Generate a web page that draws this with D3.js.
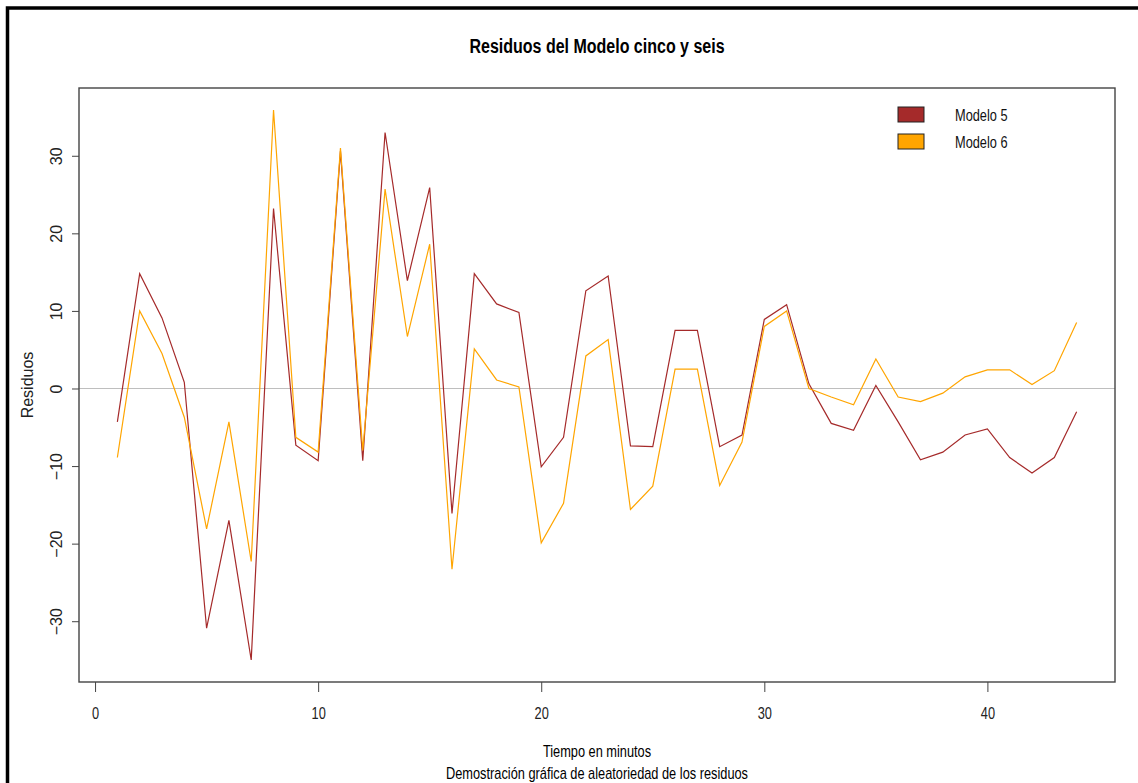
<!DOCTYPE html>
<html>
<head>
<meta charset="utf-8">
<script src="https://cdn.jsdelivr.net/npm/d3@7"></script>
<style>
  body { margin: 0; background: #fff; }
  text { font-family: "Liberation Sans", Arial, sans-serif; }
</style>
</head>
<body>
<div id="chart"></div>
<script>
// residuos (minuto 1..44)
const minutos = d3.range(1, 45);
const modelo5 = [-4.3, 14.8, 9.1, 0.8, -30.9, -17.0, -35.0, 23.2, -7.3, -9.3, 30.6, -9.3, 33.0, 13.9, 25.9, -16.1,
  14.8, 10.9, 9.8, -10.1, -6.3, 12.6, 14.5, -7.4, -7.5, 7.5, 7.5, -7.5, -6.0, 8.9, 10.8, 0.6, -4.5, -5.4, 0.4,
  -4.3, -9.2, -8.2, -6.0, -5.2, -8.9, -10.9, -8.9, -3.0];
const modelo6 = [-8.9, 10.0, 4.5, -3.7, -18.1, -4.3, -22.3, 35.9, -6.3, -8.2, 31.0, -8.0, 25.7, 6.7, 18.6, -23.3,
  5.1, 1.1, 0.2, -19.9, -14.8, 4.2, 6.3, -15.6, -12.6, 2.5, 2.5, -12.5, -6.9, 8.0, 10.0, 0.0, -1.1, -2.1, 3.8,
  -1.1, -1.7, -0.6, 1.5, 2.4, 2.4, 0.5, 2.3, 8.5];
const xTicks = [0, 10, 20, 30, 40];
const yTicks = [-30, -20, -10, 0, 10, 20, 30];
const leyenda = ["Modelo 5", "Modelo 6"];
const colores = ["#A52A2A", "#FFA500"];

let width = 1138, height = 783;
// bordes del area de dibujo ("top" ya existe en window)
let pLeft = 79, pRight = 1115, pTop = 88, pBottom = 682;
let sx = 0.8; // el texto horizontal sale algo estrecho

let svg = d3.select("#chart").append("svg")
  .attr("width", width)
  .attr("height", height);

// marco negro exterior
svg.append("path")
  .attr("d", "M7.5," + height + " V8 H" + width)
  .attr("fill", "none")
  .attr("stroke", "#000")
  .attr("stroke-width", 3.5);

// escalas al estilo R (4% extra en cada lado)
function pad(ext) {
  let d = (ext[1] - ext[0]) * 0.04;
  return [ext[0] - d, ext[1] + d];
}
let x = d3.scaleLinear().domain(pad(d3.extent(minutos))).range([pLeft, pRight]);
let y = d3.scaleLinear().domain(pad(d3.extent(modelo5.concat(modelo6)))).range([pBottom, pTop]);

// linea en cero
svg.append("line")
  .attr("x1", pLeft).attr("x2", pRight)
  .attr("y1", y(0)).attr("y2", y(0))
  .attr("stroke", "#bebebe")
  .attr("stroke-width", 1.2);

// series
let line = d3.line()
  .x(function (d, i) { return x(minutos[i]); })
  .y(function (d) { return y(d); });
[modelo5, modelo6].forEach(function (serie, k) {
  svg.append("path")
    .datum(serie)
    .attr("d", line)
    .attr("fill", "none")
    .attr("stroke", colores[k])
    .attr("stroke-width", 1.2);
});

// caja del grafico
svg.append("rect")
  .attr("x", pLeft).attr("y", pTop)
  .attr("width", pRight - pLeft).attr("height", pBottom - pTop)
  .attr("fill", "none")
  .attr("stroke", "#444")
  .attr("stroke-width", 1.4);

// eje x
let gx = svg.append("g")
  .attr("transform", "translate(0," + pBottom + ")")
  .call(d3.axisBottom(x).tickValues(xTicks).tickSize(10).tickPadding(4));
gx.select(".domain").remove();
gx.selectAll("line").attr("stroke", "#444");
gx.selectAll("text")
  .attr("font-size", 16)
  .attr("fill", "#222")
  .attr("y", 0).attr("dy", null)
  .attr("transform", "translate(0,37) scale(" + sx + ",1)");

// eje y (etiquetas giradas)
let gy = svg.append("g")
  .attr("transform", "translate(" + pLeft + ",0)")
  .call(d3.axisLeft(y).tickValues(yTicks).tickSize(7));
gy.select(".domain").remove();
gy.selectAll("line").attr("stroke", "#444");
gy.selectAll("text")
  .attr("font-size", 16)
  .attr("fill", "#222")
  .attr("x", 0).attr("dy", null)
  .attr("text-anchor", "middle")
  .attr("transform", "translate(-17,0) rotate(-90)");

// titulo y etiquetas de ejes
function texto(t, px, py, size, weight) {
  svg.append("text")
    .attr("transform", "translate(" + px + "," + py + ") scale(" + sx + ",1)")
    .attr("text-anchor", "middle")
    .attr("font-size", size)
    .attr("font-weight", weight || "normal")
    .attr("fill", "#000")
    .text(t);
}
texto("Residuos del Modelo cinco y seis", (pLeft + pRight) / 2, 53, 20, "bold");
texto("Tiempo en minutos", (pLeft + pRight) / 2, 757, 16);
texto("Demostración gráfica de aleatoriedad de los residuos", (pLeft + pRight) / 2, 779, 16);

svg.append("text")
  .attr("transform", "translate(33," + (pTop + pBottom) / 2 + ") rotate(-90)")
  .attr("text-anchor", "middle")
  .attr("font-size", 16)
  .attr("fill", "#222")
  .text("Residuos");

// leyenda
let leg = svg.append("g").attr("transform", "translate(898,107)");
leyenda.forEach(function (nombre, i) {
  leg.append("rect")
    .attr("x", 0).attr("y", i * 27)
    .attr("width", 26).attr("height", 15)
    .attr("fill", colores[i])
    .attr("stroke", "#222");
  leg.append("text")
    .attr("transform", "translate(57," + (i * 27 + 14) + ") scale(" + sx + ",1)")
    .attr("font-size", 16)
    .attr("fill", "#111")
    .text(nombre);
});
</script>
</body>
</html>
